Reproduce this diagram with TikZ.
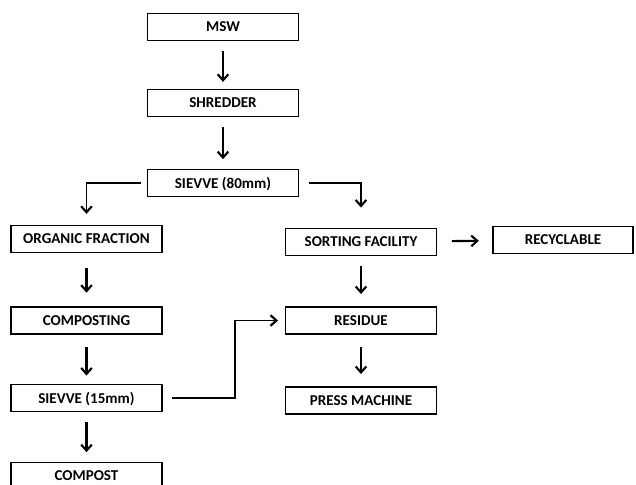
\documentclass[tikz,border=0pt]{standalone}
\usepackage{fontspec}
\setmainfont{Carlito}
\usetikzlibrary{arrows.meta}
\begin{document}
\begin{tikzpicture}[x=0.75pt,y=-0.75pt,
  box/.style={draw=black,line width=1.2pt,minimum width=113.25pt,minimum height=20.5pt,inner sep=0pt,
    text depth=0.5pt,font=\fontsize{11.3}{13}\selectfont\bfseries},
  arr/.style={line width=1.6pt,-{Straight Barb[length=4.5pt,width=8pt,line width=1.6pt]}},
  ln/.style={line width=1.4pt,-{Straight Barb[length=4.5pt,width=8pt,line width=1.6pt]}}]
\useasboundingbox (0,0) rectangle (636,485);
\node[box] (msw) at (223,27) {MSW};
\node[box] (shr) at (223,103) {SHREDDER};
\node[box] (s80) at (223,183) {SIEVVE (80mm)};
\node[box] (org) at (86.5,239) {ORGANIC FRACTION};
\node[box] (sort) at (361,242) {SORTING FACILITY};
\node[box,minimum width=105pt] (rec) at (563,240) {RECYCLABLE};
\node[box] (comp) at (86.5,320.5) {COMPOSTING};
\node[box] (res) at (361,320.5) {RESIDUE};
\node[box] (s15) at (86.5,398) {SIEVVE (15mm)};
\node[box] (press) at (361,400.5) {PRESS MACHINE};
\node[box] (compost) at (86.5,476) {COMPOST};
\draw[arr,shorten <=7,shorten >=5] (msw) -- (shr);
\draw[arr,shorten <=7,shorten >=7] (shr) -- (s80);
\draw[ln,shorten <=4,shorten >=8] (s80.west) -| (org.north);
\draw[ln,shorten <=7,shorten >=15] (s80.east) -| (sort.north);
\draw[arr,shorten <=11,shorten >=10] (org) -- (comp);
\draw[arr,shorten <=9,shorten >=6] (comp) -- (s15);
\draw[arr,shorten <=7,shorten >=7] (s15) -- (compost);
\draw[arr,shorten <=7,shorten >=9] (sort) -- (res);
\draw[arr,shorten <=11,shorten >=10] (sort) -- (rec);
\draw[arr,shorten <=9,shorten >=9] (res) -- (press);
\draw[ln,shorten <=7,shorten >=5] (s15.east) -- ++(72,0) |- (res.west);
\end{tikzpicture}
\end{document}
